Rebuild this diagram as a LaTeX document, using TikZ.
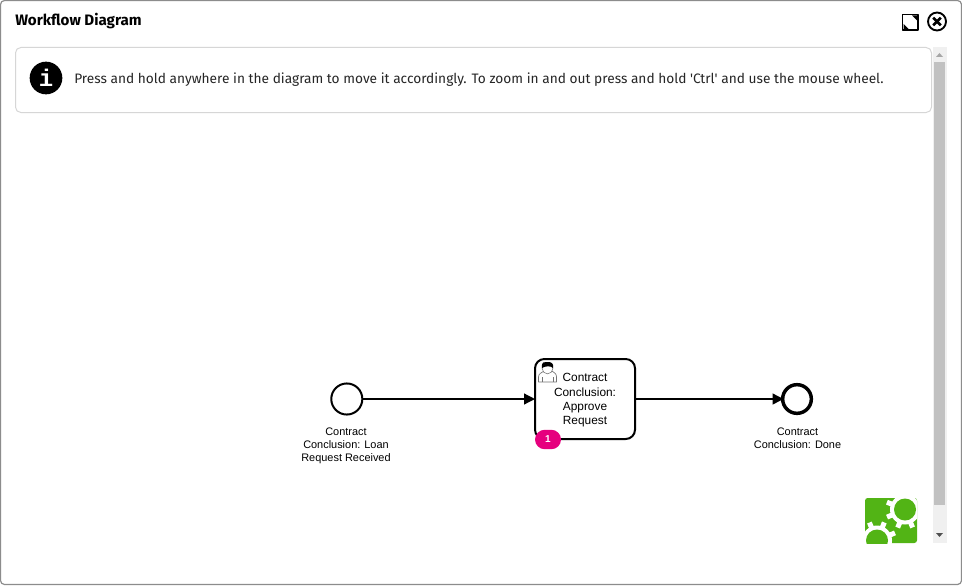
\documentclass[tikz,border=0pt]{standalone}
\usepackage{fontspec}
\setmainfont{Fira Sans}
\newfontfamily\labelfont{Liberation Sans}
\newfontfamily\iconfont{Liberation Mono}
\usepackage{tikz}
\usetikzlibrary{arrows.meta}
\definecolor{framegray}{HTML}{8C8C8C}
\definecolor{boxgray}{HTML}{D6D6D6}
\definecolor{trackgray}{HTML}{F0F0F0}
\definecolor{thumbgray}{HTML}{C1C1C1}
\definecolor{arrowgray}{HTML}{505050}
\definecolor{tokenpink}{HTML}{E6007E}
\definecolor{puzzlegreen}{HTML}{52B415}
\tikzset{
  flowlabel/.style={font=\labelfont\fontsize{8.2}{9.75}\selectfont,align=center,text=black,inner sep=0pt},
  flow/.style={line width=1.5pt,shorten >=-0.8pt,-{Triangle[length=8.25pt,width=8pt]}},
  event/.style={circle,draw,fill=white,minimum size=23.3pt,inner sep=0pt},
  tooth/.style={white,line width=3.75pt},
}
\begin{document}
\begin{tikzpicture}[x=0.75pt,y=-0.75pt,line join=round]
      \useasboundingbox (0, 0) rectangle (962, 585);
      % window
      \draw[framegray,fill=white,line width=0.9pt,rounded corners=3pt] (0.5, 0.5) rectangle (961.5, 584.5);
      \node[anchor=west,inner sep=0pt,font=\fontsize{11.35}{13}\selectfont\bfseries] (title) at (15, 21.5) {Workflow Diagram};
      % info box
      \draw[boxgray,line width=0.75pt,rounded corners=4pt] (15.5, 47.5) rectangle (931.5, 112.5);
      \node[circle,fill=black,minimum size=24.5pt,inner sep=0pt,text=white,font=\iconfont\fontsize{18}{18}\selectfont\bfseries] (info) at (46, 78) {i};
      \node[anchor=west,inner sep=0pt,text=black!85,font=\fontsize{10.28}{12}\selectfont] (hint) at (74, 79.5) {Press and hold anywhere in the diagram to move it accordingly. To zoom in and out press and hold \textquotesingle Ctrl\textquotesingle{} and use the mouse wheel.};
      % window buttons
      \draw[black,line width=0.8pt,fill=white] (902.5, 14.5) rectangle (918, 30);
      \fill (917, 15.5) -- (912, 15.5) -- (917, 20.5) -- cycle;
      \fill (903.5, 29) -- (908.5, 29) -- (903.5, 24) -- cycle;
      \node[circle,draw,line width=1.4pt,minimum size=13.5pt,inner sep=0pt] (closebtn) at (937, 21.5) {};
      \draw[line width=2pt] (933.2, 17.7) -- (940.8, 25.3);
      \draw[line width=2pt] (940.8, 17.7) -- (933.2, 25.3);
      % scrollbar
      \fill[trackgray] (933, 47) rectangle (947, 543);
      \fill[thumbgray] (934, 62) rectangle (945, 505);
      \fill[black!35] (936, 57) -- (943, 57) -- (939.5, 53) -- cycle;
      \fill[arrowgray] (936, 533) -- (943, 533) -- (939.5, 537) -- cycle;
      % workflow
      \node[event,line width=1.5pt] (start) at (346.8, 399) {};
      \node[draw,fill=white,line width=1.5pt,rounded corners=7pt,minimum width=75pt,minimum height=60pt,inner sep=0pt] (task) at (585, 399) {};
      \node[event,line width=2.6pt,minimum size=21.5pt] (end) at (797, 399) {};
      \draw[flow] (start) -- (task);
      \draw[flow,shorten >=-2pt] (task) -- (end);
      \node[flowlabel] (startlabel) at (346, 446.2) {Contract\\Conclusion: Loan\\Request Received};
      \node[flowlabel] (endlabel) at (797.5, 438) {Contract\\Conclusion: Done};
      \node[flowlabel,font=\labelfont\fontsize{8.9}{10.75}\selectfont] (tasklabel) at (585, 400.3) {Contract\\Conclusion:\\Approve\\Request};
      \node[fill=tokenpink,rounded corners=7.3pt,minimum width=19.5pt,minimum height=14.6pt,inner sep=0pt,text=white,font=\labelfont\fontsize{7.5}{8}\selectfont\bfseries] (token) at (548, 439.5) {1};
      % user icon
      \draw[black!55,line width=0.5pt,fill=white] (538.5, 382) -- (538.5, 377) .. controls (538.5, 373) and (542, 373) .. (544, 371) -- (552, 371) .. controls (554, 373) and (556.5, 373) .. (556.5, 377) -- (556.5, 382) -- cycle;
      \draw[black!55,line width=0.4pt] (542, 377) -- (542, 382);
      \draw[black!55,line width=0.4pt] (553, 377) -- (553, 382);
      \fill[white,draw=black!55,line width=0.4pt] (547.5, 368.5) circle (4pt);
      \fill[black] (542, 368) .. controls (541, 361) and (545, 362) .. (547.5, 362) .. controls (551, 362) and (554, 363) .. (553, 368) .. controls (551, 365.5) and (545, 366) .. (542, 368) -- cycle;
      % puzzle logo
      \begin{scope}
        \clip (865, 498) rectangle (917, 543);
        \fill[puzzlegreen,rounded corners=2pt] (865, 498) rectangle (917, 543);
        \fill[white] (905, 509.5) circle (11.25pt);
        \foreach \a in {22,67,...,337} {
          \draw[tooth] (905, 509.5) -- ++(\a:19.5);
        }
        \fill[puzzlegreen] (905, 509.5) circle (8.25pt);
        \fill[white] (877, 540.5) circle (11.25pt);
        \foreach \a in {22,67,...,337} {
          \draw[tooth] (877, 540.5) -- ++(\a:19.5);
        }
        \fill[puzzlegreen] (877, 540.5) circle (8.25pt);
      \end{scope}
    \end{tikzpicture}
\end{document}
